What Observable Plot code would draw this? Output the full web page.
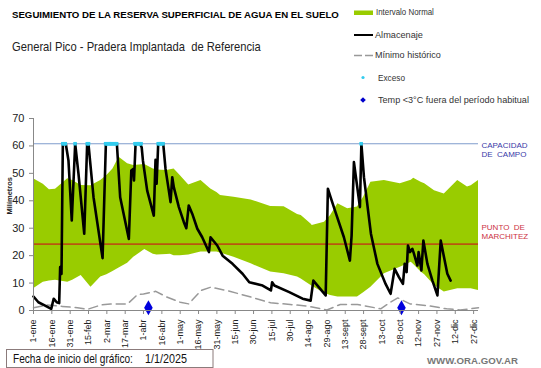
<!DOCTYPE html>
<html><head><meta charset="utf-8">
<script src="https://cdn.jsdelivr.net/npm/d3@7"></script>
<script src="https://cdn.jsdelivr.net/npm/@observablehq/plot@0.6"></script>
<style>
body{margin:0;background:#fff;font-family:"Liberation Sans",Arial,sans-serif;}
#wrap{position:relative;width:541px;height:368px;overflow:hidden;background:#fff;}
#wrap > svg{position:absolute;left:0;top:0;}
</style></head><body>
<div id="wrap"></div>
<script>
// Normal interval band (day of year from 1-ene)
const bandDay  = [0, 8, 13, 18, 28, 32, 39, 47, 55, 60, 65, 70, 77, 82, 91, 98, 101, 109, 112, 115, 120, 127, 137, 145, 150, 153, 164, 178, 194, 205, 216, 219, 227, 228, 238, 243, 249, 257, 265, 270, 276, 287, 300, 309, 311, 317, 320, 328, 336, 347, 355, 358, 364];
const bandHigh = [48.0, 46, 44, 44.2, 48, 47.4, 45.6, 45.5, 47.4, 49.2, 51.6, 55.9, 53.5, 52.9, 53.2, 51.6, 51.2, 51.0, 51.3, 51.6, 49.2, 45.8, 47.4, 44.3, 43, 41.9, 41.3, 40.3, 37.9, 37.8, 35, 34.6, 31.5, 31, 32.2, 34.6, 38.9, 37.1, 37.7, 41.3, 46.8, 47.4, 46.2, 47.5, 48.2, 46.8, 46.2, 43.7, 42.5, 47.4, 45, 45.5, 47.4];
const bandLow  = [7.9, 10.3, 10.8, 11, 10.3, 11, 12.8, 8.5, 12.2, 13, 14.2, 15.5, 17.2, 19.4, 22.2, 20.5, 20.2, 20.4, 20.5, 20, 20, 20.2, 21.3, 21.3, 21.3, 21, 19.4, 17, 14, 13.4, 12.2, 11.5, 9.1, 8.8, 6.3, 5.5, 4.9, 4.9, 4.9, 6.5, 8.5, 13.4, 15.8, 17.6, 16.8, 14, 13, 9.1, 6.7, 7.9, 7.9, 7.9, 7.3];

// Almacenaje (stored water, mm)
const storeDay = [0, 4, 9.5, 14.5, 16.5, 19, 21, 21.8, 22.9, 24, 26.4, 28.6, 31.3, 34.1, 36.8, 41.5, 43.9, 45, 49.1, 56.5, 59.2, 68.2, 70.9, 78, 80, 81.6, 82.2, 83.5, 87, 88.5, 89.5, 93, 98.4, 99.8, 100.7, 102, 106.1, 108, 110.7, 112.1, 113.5, 114.8, 118.9, 123, 125, 127, 129.9, 134, 138, 143.5, 144.8, 150.3, 154.7, 162.8, 171, 176.5, 187.4, 194.2, 195.2, 197, 209.2, 220.1, 226.7, 228.9, 239, 240.8, 243, 247.1, 253.9, 258.8, 260.2, 262.1, 267, 268.2, 270.3, 276, 281.3, 288, 292.1, 295.4, 298.9, 302.2, 303.6, 305.2, 306.3, 308, 309.9, 311.2, 314, 315, 317.3, 318.9, 322.2, 326.3, 330.4, 333.1, 335.8, 338.5, 341.2];
const storeVal = [5.1, 3.0, 1.8, 0.6, 4.3, 3, 2.7, 15.8, 13.3, 60.8, 60.8, 54.7, 32.8, 60.8, 49.8, 28, 60.8, 60.5, 41.3, 19.1, 60.8, 60.8, 41.3, 26.1, 51, 51.6, 47.4, 60.8, 60.8, 59.5, 54.7, 43.7, 34.6, 54.9, 46.2, 60.8, 60.8, 51.6, 43.7, 39.5, 48.6, 44.9, 37.7, 32.2, 30, 38.3, 35.2, 29.8, 26.7, 21.3, 26.7, 23.7, 20, 17, 13.4, 10.3, 9.1, 7.3, 10.3, 9.1, 6.7, 4.3, 3.6, 10.9, 5.5, 44.4, 41.3, 35.8, 26.7, 18.2, 27.3, 54.1, 37.7, 60.8, 48.6, 28, 17, 9.7, 6.1, 15.2, 12.2, 9.7, 17, 14, 23.7, 21.3, 22.5, 20.7, 16.4, 21.3, 14.6, 25.5, 17, 10.9, 5.5, 25.5, 19.4, 13.4, 10.9];

// Mínimo histórico
const minDay = [0, 11, 23.5, 36, 44, 55, 63, 77, 85, 90, 100, 109, 120, 127, 137, 145, 158, 178, 194, 210, 224, 240, 251, 265, 284, 292, 298, 308, 322, 338, 349, 364];
const minVal = [1, 2, 1.5, 1, 0.4, 2, 2.4, 2.4, 5.8, 6, 7, 4.9, 3, 2.4, 7.3, 8.5, 7.3, 4.9, 2.8, 2.2, 1.6, 0.2, 2.2, 2.2, 0.6, 3, 4.6, 2.4, 1.8, 0.6, 0.2, 1];

// Exceso (days at field capacity)
const excessDay = [24, 25, 26, 34, 44, 45, 59, 60, 61, 62, 63, 64, 65, 66, 67, 68, 83, 84, 85, 86, 87, 88, 102, 103, 104, 105, 106, 268];
// Temp < 3°C fuera del período habitual
const coldDay = [94, 301];
const coldVal = [1, 1];

const capacity = 60.8;   // Capacidad de campo
const wilting = 24.2;    // Punto de marchitez

const tickDay = [0, 15, 30, 45, 60, 75, 90, 105, 120, 135, 150, 165, 180, 195, 210, 225, 240, 255, 270, 285, 300, 315, 330, 345, 360];
const tickLabel = ["1-ene", "16-ene", "31-ene", "15-feb", "2-mar", "17-mar", "1-abr", "16-abr", "1-may", "16-may", "31-may", "15-jun", "30-jun", "15-jul", "30-jul", "14-ago", "29-ago", "13-sept", "28-sept", "13-oct", "28-oct", "12-nov", "27-nov", "12-dic", "27-dic"];
const yTicks = [0, 10, 20, 30, 40, 50, 60, 70];

const titleText = "SEGUIMIENTO DE LA RESERVA SUPERFICIAL DE AGUA EN EL SUELO";
const subtitleText = "General Pico - Pradera Implantada  de Referencia";
const legendLabels = ["Intervalo Normal", "Almacenaje", "Mínimo histórico", "Exceso", "Temp <3°C fuera del período habitual"];
const startLabel = "Fecha de inicio del gráfico:";
const startDate = "1/1/2025";
const sourceText = "WWW.ORA.GOV.AR";

const band = bandDay.map((d, i) => ({day: d, lo: bandLow[i], hi: bandHigh[i]}));
const store = storeDay.map((d, i) => ({day: d, v: storeVal[i]}));
const minh = minDay.map((d, i) => ({day: d, v: minVal[i]}));
const excess = excessDay.map(d => ({day: d, v: capacity}));
const cold = coldDay.map((d, i) => ({day: d, v: coldVal[i]}));

const chart = Plot.plot({
  width: 541, height: 368,
  marginTop: 118, marginBottom: 58, marginLeft: 33, marginRight: 63,
  x: {domain: [0, 364], axis: null},
  y: {domain: [0, 70], axis: null},
  style: {fontFamily: "Liberation Sans, Arial, sans-serif", fontSize: "11px", color: "#000", background: "transparent", overflow: "visible"},
  marks: [
    Plot.areaY(band, {x: "day", y1: "lo", y2: "hi", fill: "#99cc00"}),
    Plot.ruleY([capacity], {stroke: "#7f9ccc", strokeWidth: 1.2}),
    Plot.ruleY([wilting], {stroke: "#b8560f", strokeWidth: 1.6}),
    Plot.line(minh, {x: "day", y: "v", stroke: "#999", strokeWidth: 1.5, strokeDasharray: "9,5"}),
    Plot.line(store, {x: "day", y: "v", stroke: "#000", strokeWidth: 2.6, strokeLinejoin: "round"}),
    Plot.dot(excess, {x: "day", y: "v", symbol: "square", r: 2, fill: "#33ccee", stroke: "none"}),
    Plot.dot(cold, {x: "day", y: "v", symbol: "diamond", r: 4.5, fill: "#0000dd", stroke: "none"}),
    Plot.ruleX([0], {stroke: "#888"}),
    Plot.ruleY([0], {stroke: "#888"}),
    Plot.axisY({ticks: yTicks, label: null, tickSize: 4, stroke: "#888", fill: "#222", fontSize: 11}),
    Plot.axisX({ticks: tickDay, label: null, tickFormat: d => tickLabel[tickDay.indexOf(d)], tickRotate: -90, tickSize: 4, stroke: "#888", fill: "#222", fontSize: 9}),
    Plot.text(["Milímetros"], {frameAnchor: "left", dx: -24, rotate: -90, text: d => d, fontSize: 7.5, fontWeight: "bold", fill: "#222"}),
    Plot.text(["CAPACIDAD\nDE  CAMPO"], {x: () => 364, y: () => capacity, text: d => d, textAnchor: "start", lineAnchor: "top", dx: 3, dy: -2, fontSize: 8, lineHeight: 1.1, fill: "#3a3aa8"}),
    Plot.text(["PUNTO  DE\nMARCHITEZ"], {x: () => 364, y: () => wilting, text: d => d, textAnchor: "start", lineAnchor: "bottom", dx: 3, dy: -5, fontSize: 8, lineHeight: 1.1, fill: "#cc3344"})
  ]
});
const wrap = document.getElementById("wrap");
wrap.appendChild(chart);

// Overlay: title, subtitle, legend, footer
const ov = d3.select(wrap).append("svg")
  .attr("width", 541).attr("height", 368)
  .style("position", "absolute").style("left", "0px").style("top", "0px")
  .style("font-family", "Liberation Sans, Arial, sans-serif");

// Draw a text whose left edge is at x, centred on y, horizontally scaled to a target width
function label(x, y, str, size, opts = {}) {
  const g = ov.append("g");
  const t = g.append("text").attr("x", 0).attr("y", 0)
    .attr("dominant-baseline", "central")
    .attr("font-size", size)
    .attr("fill", opts.fill || "#000")
    .attr("font-weight", opts.weight || "normal")
    .style("white-space", "pre")
    .text(str);
  let sx = 1;
  if (opts.len) {
    const natural = t.node().getComputedTextLength();
    if (natural > 0) sx = opts.len / natural;
  }
  g.attr("transform", `translate(${x},${y}) scale(${sx},1)`);
  return g;
}

label(12, 15.5, titleText, 9, {weight: "bold", len: 327});
label(12, 46.5, subtitleText, 12.5, {fill: "#222", len: 249});

// legend
const lx = 354, lw = 19;
const rowY = [12.5, 35, 55.5, 77.5, 100];
ov.append("rect").attr("x", lx).attr("y", rowY[0] - 2).attr("width", lw).attr("height", 4.5).attr("fill", "#99cc00");
ov.append("line").attr("x1", lx).attr("x2", lx + lw).attr("y1", rowY[1]).attr("y2", rowY[1]).attr("stroke", "#000").attr("stroke-width", 2);
ov.append("line").attr("x1", lx).attr("x2", lx + lw).attr("y1", rowY[2]).attr("y2", rowY[2]).attr("stroke", "#999").attr("stroke-width", 1.5).attr("stroke-dasharray", "8,3");
ov.append("circle").attr("cx", lx + 9).attr("cy", rowY[3]).attr("r", 1.6).attr("fill", "#33ccee");
ov.append("path").attr("d", d3.symbol(d3.symbolDiamond2, 20)()).attr("transform", `translate(${lx + 9},${rowY[4]})`).attr("fill", "#0000cc");
const legX = [376, 375, 375, 378, 378];
const legLen = [58, 48, 66, 27, 151];
legendLabels.forEach((s, i) => label(legX[i], rowY[i], s, 8.5, {fill: "#333", len: legLen[i]}));

// footer
ov.append("rect").attr("x", 6.5).attr("y", 349.5).attr("width", 206.5).attr("height", 18).attr("fill", "none").attr("stroke", "#8b7b7b").attr("stroke-width", 1);
label(13, 358.7, startLabel, 12, {fill: "#111", len: 120});
label(145, 358.7, startDate, 12, {fill: "#111", len: 42});
label(427, 360.3, sourceText, 9.5, {fill: "#777", weight: "bold", len: 91});
</script>
</body></html>
